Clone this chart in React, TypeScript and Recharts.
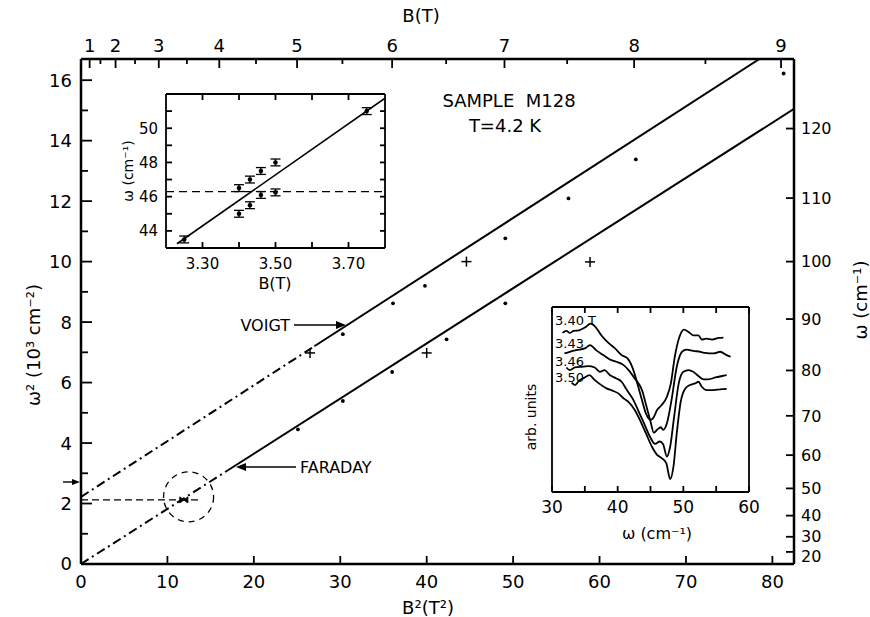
import React from 'react'
import {
  ComposedChart,
  Line,
  Scatter,
  XAxis,
  YAxis,
  ReferenceLine,
  ReferenceDot,
  ErrorBar,
} from 'recharts'

const FONT = '"DejaVu Sans", sans-serif'
const INK = '#000'

// ---- main plot: omega^2 (10^3 cm^-2) against B^2 (T^2)
const X_MAX = 82.5
const Y_MAX = 16.7
const B2_TICKS = [0, 10, 20, 30, 40, 50, 60, 70, 80]
const W2_TICKS = [0, 1, 2, 3, 4, 5, 6, 7, 8, 9, 10, 11, 12, 13, 14, 15, 16]
const B_TOP = [1, 1.5, 2, 2.5, 3, 3.5, 4, 4.5, 5, 5.5, 6, 6.5, 7, 7.5, 8, 8.5, 9]
const OMEGA_RIGHT = [20, 30, 40, 50, 60, 70, 80, 90, 100, 110, 120]

const VOIGT_FIT_DASH = [{ b2: 0, w2: 2.22 }, { b2: 27, w2: 7.2 }]
const VOIGT_FIT_SOLID = [{ b2: 27, w2: 7.2 }, { b2: 78.5, w2: 16.7 }]
const FARADAY_FIT_DASH = [{ b2: 0, w2: 0 }, { b2: 17, w2: 3.1 }]
const FARADAY_FIT_SOLID = [{ b2: 17, w2: 3.1 }, { b2: 82.5, w2: 15.05 }]

const VOIGT_DOTS = [
  { b2: 30.3, w2: 7.6 },
  { b2: 36.1, w2: 8.62 },
  { b2: 39.8, w2: 9.2 },
  { b2: 49.1, w2: 10.77 },
  { b2: 56.4, w2: 12.09 },
  { b2: 64.2, w2: 13.38 },
  { b2: 81.3, w2: 16.22 },
]
const VOIGT_PLUS = [{ b2: 26.5, w2: 6.98 }, { b2: 44.6, w2: 10.0 }]
const FARADAY_DOTS = [
  { b2: 25.1, w2: 4.45 },
  { b2: 30.3, w2: 5.39 },
  { b2: 36.0, w2: 6.35 },
  { b2: 42.3, w2: 7.43 },
  { b2: 49.1, w2: 8.62 },
]
const FARADAY_PLUS = [{ b2: 40.0, w2: 6.98 }, { b2: 58.9, w2: 9.99 }]
const CROSSING = [{ b2: 11.9, w2: 2.12 }]

// ---- inset 1: omega vs B near the crossing
const INSET_B_TICKS = [3.3, 3.4, 3.5, 3.6, 3.7]
const INSET_W_TICKS = [44, 45, 46, 47, 48, 49, 50, 51]
const INSET_FIT = [{ b: 3.23, w: 43.25 }, { b: 3.8, w: 51.75 }]
const INSET_LEVEL = 46.3
const INSET_PTS = [
  { b: 3.25, w: 43.5, err: 0.2 },
  { b: 3.4, w: 46.5, err: 0.2 },
  { b: 3.4, w: 45.0, err: 0.2 },
  { b: 3.43, w: 47.0, err: 0.2 },
  { b: 3.43, w: 45.5, err: 0.2 },
  { b: 3.46, w: 47.5, err: 0.2 },
  { b: 3.46, w: 46.1, err: 0.2 },
  { b: 3.5, w: 48.0, err: 0.2 },
  { b: 3.5, w: 46.25, err: 0.2 },
  { b: 3.75, w: 51.0, err: 0.2 },
]

// ---- inset 2: spectra (arb. units)
const SPEC_TICKS = [30, 35, 40, 45, 50, 55, 60]
const SPEC_340 = [
  [31.6, 86.0], [32.2, 87.1], [32.7, 86.0], [33.3, 87.1], [34.1, 87.4], [35.0, 88.9], [35.9, 91.0],
  [36.7, 88.9], [37.5, 84.7], [38.6, 80.6], [39.6, 77.6], [40.6, 74.0], [41.5, 72.2], [42.3, 66.8],
  [43.0, 58.7], [43.7, 49.7], [44.3, 42.5], [45.0, 39.0], [45.4, 39.9], [46.0, 44.3], [46.7, 47.0],
  [47.5, 51.5], [48.1, 58.7], [48.7, 73.1], [49.4, 83.8], [50.1, 87.8], [50.8, 86.5], [51.5, 84.7],
  [52.3, 84.7], [52.8, 82.4], [53.5, 82.9], [54.4, 82.4], [55.4, 83.3], [56.1, 83.5],
]
const SPEC_343 = [
  [31.9, 74.9], [32.7, 75.8], [33.7, 76.7], [35.0, 77.6], [35.8, 79.4], [36.7, 76.7], [37.8, 74.0],
  [38.8, 71.6], [39.8, 70.4], [40.9, 68.6], [41.6, 66.2], [42.6, 61.4], [43.7, 55.1], [44.4, 46.1],
  [45.0, 38.1], [45.5, 32.1], [46.0, 33.6], [46.6, 35.0], [46.9, 33.6], [47.5, 37.2], [48.2, 49.7],
  [49.0, 67.7], [49.8, 75.8], [50.5, 77.0], [51.5, 76.3], [52.6, 75.8], [53.3, 75.2], [54.6, 74.9],
  [55.6, 75.8], [56.6, 74.0], [57.2, 73.1],
]
const SPEC_346 = [
  [32.2, 67.3], [32.7, 65.9], [33.5, 67.3], [34.5, 67.7], [35.5, 68.0], [36.5, 67.3], [37.3, 65.0],
  [38.0, 65.9], [38.8, 63.2], [39.8, 61.4], [40.6, 59.6], [41.4, 55.1], [42.4, 49.7], [43.1, 44.3],
  [44.0, 37.2], [44.9, 30.0], [45.7, 26.0], [46.4, 27.3], [46.9, 26.0], [47.5, 19.2], [48.0, 24.6],
  [48.6, 40.8], [49.3, 58.7], [50.0, 65.0], [50.8, 65.9], [51.5, 65.0], [52.3, 62.7], [53.1, 60.9],
  [53.8, 60.9], [54.9, 61.9], [55.9, 62.7], [56.6, 63.2],
]
const SPEC_350 = [
  [33.0, 59.1], [33.5, 57.8], [34.1, 60.1], [35.0, 61.9], [35.7, 63.2], [36.4, 60.9], [37.3, 58.3],
  [38.3, 56.0], [39.2, 54.8], [40.1, 53.3], [40.9, 50.6], [41.6, 48.8], [42.6, 44.3], [43.5, 38.1],
  [44.3, 31.8], [45.2, 24.6], [46.0, 20.1], [46.7, 18.3], [47.4, 15.6], [48.0, 7.0], [48.5, 13.8],
  [49.0, 31.8], [49.6, 48.8], [50.3, 56.0], [51.0, 57.8], [51.8, 58.7], [52.3, 59.6], [52.8, 56.9],
  [53.6, 55.1], [54.6, 55.1], [55.6, 55.5], [56.6, 55.7],
]
const SPECTRA = [SPEC_340, SPEC_343, SPEC_346, SPEC_350]

const toPts = (arr: number[][]) => arr.map(([w, a]) => ({ w, a }))

type Side = 'bottom' | 'top' | 'left' | 'right'
interface TickOpts {
  side: Side
  len: (v: number) => number
  text: (v: number) => string
  off: number
  size: number
  nudge?: (v: number) => number
}

// ticks point into the plot, labels sit outside
function tickRenderer(o: TickOpts) {
  return (p: any) => {
    const x = Number(p.x)
    const y = Number(p.y)
    const v = p.payload.value
    const l = o.len(v)
    const s = o.text(v)
    let d = ''
    let tx = x
    let ty = y
    let anchor = 'middle'
    if (o.side === 'bottom') {
      d = `M${x},${y}V${y - l}`
      ty = y + o.off
    } else if (o.side === 'top') {
      d = `M${x},${y}V${y + l}`
      ty = y - o.off
    } else if (o.side === 'left') {
      d = `M${x},${y}H${x + l}`
      tx = x - o.off
      ty = y + o.size * 0.36
      anchor = 'end'
    } else {
      d = `M${x},${y}H${x - l}`
      tx = x + o.off
      ty = y + o.size * 0.36
      anchor = 'start'
    }
    if (o.nudge) ty += o.nudge(v)
    return (
      <g>
        <path d={d} stroke={INK} strokeWidth={1.8} fill="none" />
        {s !== '' && (
          <text x={tx} y={ty} textAnchor={anchor} fontSize={o.size} fontFamily={FONT} fill={INK} stroke="none">
            {s}
          </text>
        )}
      </g>
    )
  }
}

const AXIS = { stroke: INK, strokeWidth: 2.5 }
const THIN_AXIS = { stroke: INK, strokeWidth: 1.8 }

const dotShape = (p: any) => <circle cx={p.cx} cy={p.cy} r={1.9} fill={INK} />
const plusShape = (p: any) => (
  <g stroke={INK} strokeWidth={1.5}>
    <line x1={p.cx - 5} y1={p.cy} x2={p.cx + 5} y2={p.cy} />
    <line x1={p.cx} y1={p.cy - 5} x2={p.cx} y2={p.cy + 5} />
  </g>
)
const bowtieShape = (p: any) => (
  <path
    d={`M${p.cx - 4},${p.cy - 3} L${p.cx + 4},${p.cy + 3} L${p.cx + 4},${p.cy - 3} L${p.cx - 4},${p.cy + 3} Z`}
    fill={INK}
    stroke={INK}
    strokeWidth={1}
  />
)
const insetDot = (p: any) => <circle cx={p.cx} cy={p.cy} r={2.3} fill={INK} />

const DASH_DOT = '9 4 2 4'
const ZERO = { top: 0, right: 0, bottom: 0, left: 0 }

function omegaLabel(v: number) {
  return Math.round(Math.sqrt(v * 1000))
}

function MainChart() {
  return (
    <ComposedChart width={870} height={617} margin={ZERO}>
      <XAxis
        xAxisId="b"
        type="number"
        dataKey="b2"
        domain={[0, X_MAX]}
        allowDataOverflow
        ticks={B2_TICKS}
        interval={0}
        height={53}
        tickSize={0}
        tickMargin={0}
        tickLine={false}
        axisLine={AXIS}
        tick={tickRenderer({ side: 'bottom', len: () => 8, text: (v) => String(v), off: 24, size: 18 })}
      />
      <XAxis
        xAxisId="t"
        orientation="top"
        type="number"
        dataKey="b2"
        domain={[0, X_MAX]}
        allowDataOverflow
        ticks={B_TOP.map((b) => b * b)}
        interval={0}
        height={59}
        tickSize={0}
        tickMargin={0}
        tickLine={false}
        axisLine={AXIS}
        tick={tickRenderer({
          side: 'top',
          len: (v) => (Number.isInteger(Math.round(Math.sqrt(v) * 100) / 100) ? 9 : 5),
          text: (v) => {
            const b = Math.round(Math.sqrt(v) * 100) / 100
            return Number.isInteger(b) ? String(b) : ''
          },
          off: 7,
          size: 18,
        })}
      />
      <YAxis
        yAxisId="l"
        type="number"
        dataKey="w2"
        domain={[0, Y_MAX]}
        allowDataOverflow
        ticks={W2_TICKS}
        interval={0}
        width={81}
        tickSize={0}
        tickMargin={0}
        tickLine={false}
        axisLine={AXIS}
        tick={tickRenderer({
          side: 'left',
          len: (v) => (v % 2 === 0 ? 11 : 7),
          text: (v) => (v % 2 === 0 ? String(v) : ''),
          off: 9,
          size: 18,
        })}
      />
      <YAxis
        yAxisId="r"
        orientation="right"
        type="number"
        dataKey="w2"
        domain={[0, Y_MAX]}
        allowDataOverflow
        ticks={OMEGA_RIGHT.map((w) => (w * w) / 1000)}
        interval={0}
        width={76}
        tickSize={0}
        tickMargin={0}
        tickLine={false}
        axisLine={AXIS}
        tick={tickRenderer({
          side: 'right',
          len: () => 8,
          text: (v) => String(omegaLabel(v)),
          off: 7,
          size: 16,
          // the 20/30/40 labels are crowded near the bottom, spread them a little
          nudge: (v) => (omegaLabel(v) === 20 ? 4 : omegaLabel(v) === 30 ? -1 : 0),
        })}
      />

      <ReferenceLine
        xAxisId="b"
        yAxisId="l"
        segment={[{ x: 0, y: 2.12 }, { x: 13.8, y: 2.12 }]}
        stroke={INK}
        strokeWidth={1.3}
        strokeDasharray="7 4"
      />
      <ReferenceDot
        xAxisId="b"
        yAxisId="l"
        x={12.45}
        y={2.22}
        r={25}
        fill="none"
        stroke={INK}
        strokeWidth={1.3}
        strokeDasharray="6 5"
      />

      <Line xAxisId="b" yAxisId="l" data={VOIGT_FIT_DASH} dataKey="w2" type="linear" stroke={INK} strokeWidth={2} strokeDasharray={DASH_DOT} dot={false} isAnimationActive={false} />
      <Line xAxisId="b" yAxisId="l" data={VOIGT_FIT_SOLID} dataKey="w2" type="linear" stroke={INK} strokeWidth={2} dot={false} isAnimationActive={false} />
      <Line xAxisId="b" yAxisId="l" data={FARADAY_FIT_DASH} dataKey="w2" type="linear" stroke={INK} strokeWidth={2} strokeDasharray={DASH_DOT} dot={false} isAnimationActive={false} />
      <Line xAxisId="b" yAxisId="l" data={FARADAY_FIT_SOLID} dataKey="w2" type="linear" stroke={INK} strokeWidth={2} dot={false} isAnimationActive={false} />
      {/* same Faraday fit bound to the top/right axes, drawn invisibly so those axes get a series */}
      <Line xAxisId="t" yAxisId="r" data={FARADAY_FIT_SOLID} dataKey="w2" type="linear" stroke="none" dot={false} isAnimationActive={false} />

      <Scatter xAxisId="b" yAxisId="l" data={VOIGT_DOTS} dataKey="w2" shape={dotShape} isAnimationActive={false} />
      <Scatter xAxisId="b" yAxisId="l" data={VOIGT_PLUS} dataKey="w2" shape={plusShape} isAnimationActive={false} />
      <Scatter xAxisId="b" yAxisId="l" data={FARADAY_DOTS} dataKey="w2" shape={dotShape} isAnimationActive={false} />
      <Scatter xAxisId="b" yAxisId="l" data={FARADAY_PLUS} dataKey="w2" shape={plusShape} isAnimationActive={false} />
      <Scatter xAxisId="b" yAxisId="l" data={CROSSING} dataKey="w2" shape={bowtieShape} isAnimationActive={false} />
    </ComposedChart>
  )
}

function FieldInset() {
  return (
    <ComposedChart width={300} height={220} margin={ZERO}>
      <XAxis
        xAxisId="b"
        type="number"
        dataKey="b"
        domain={[3.2, 3.8]}
        allowDataOverflow
        ticks={INSET_B_TICKS}
        interval={0}
        height={52}
        tickSize={0}
        tickMargin={0}
        tickLine={false}
        axisLine={THIN_AXIS}
        tick={tickRenderer({
          side: 'bottom',
          len: () => 6,
          text: (v) => (Math.round(v * 10) % 2 === 1 ? v.toFixed(2) : ''),
          off: 21,
          size: 15,
        })}
      />
      <XAxis
        xAxisId="t"
        orientation="top"
        type="number"
        dataKey="b"
        domain={[3.2, 3.8]}
        allowDataOverflow
        ticks={INSET_B_TICKS}
        interval={0}
        height={14}
        tickSize={0}
        tickMargin={0}
        tickLine={false}
        axisLine={THIN_AXIS}
        tick={tickRenderer({ side: 'top', len: () => 6, text: () => '', off: 0, size: 15 })}
      />
      <YAxis
        yAxisId="l"
        type="number"
        dataKey="w"
        domain={[43, 52]}
        allowDataOverflow
        ticks={INSET_W_TICKS}
        interval={0}
        width={66}
        tickSize={0}
        tickMargin={0}
        tickLine={false}
        axisLine={THIN_AXIS}
        tick={tickRenderer({
          side: 'left',
          len: () => 6,
          text: (v) => (v % 2 === 0 ? String(v) : ''),
          off: 8,
          size: 15,
        })}
      />
      <YAxis
        yAxisId="r"
        orientation="right"
        type="number"
        dataKey="w"
        domain={[43, 52]}
        allowDataOverflow
        ticks={INSET_W_TICKS}
        interval={0}
        width={15}
        tickSize={0}
        tickMargin={0}
        tickLine={false}
        axisLine={THIN_AXIS}
        tick={tickRenderer({ side: 'right', len: () => 5, text: () => '', off: 0, size: 15 })}
      />
      <ReferenceLine xAxisId="b" yAxisId="l" y={INSET_LEVEL} stroke={INK} strokeWidth={1.3} strokeDasharray="8 5" />
      <Line xAxisId="b" yAxisId="l" data={INSET_FIT} dataKey="w" type="linear" stroke={INK} strokeWidth={1.6} dot={false} isAnimationActive={false} />
      <Line xAxisId="t" yAxisId="r" data={INSET_FIT} dataKey="w" type="linear" stroke="none" dot={false} isAnimationActive={false} />
      <Scatter xAxisId="b" yAxisId="l" data={INSET_PTS} dataKey="w" shape={insetDot} isAnimationActive={false}>
        <ErrorBar dataKey="err" direction="y" width={5} stroke={INK} strokeWidth={1.3} />
      </Scatter>
    </ComposedChart>
  )
}

function SpectraInset() {
  return (
    <ComposedChart width={270} height={270} margin={ZERO}>
      <XAxis
        xAxisId="b"
        type="number"
        dataKey="w"
        domain={[30, 60]}
        allowDataOverflow
        ticks={SPEC_TICKS}
        interval={0}
        height={68}
        tickSize={0}
        tickMargin={0}
        tickLine={false}
        axisLine={THIN_AXIS}
        tick={tickRenderer({
          side: 'bottom',
          len: () => 6,
          text: (v) => (v % 10 === 0 ? String(v) : ''),
          off: 21,
          size: 17,
        })}
      />
      <XAxis
        xAxisId="t"
        orientation="top"
        type="number"
        dataKey="w"
        domain={[30, 60]}
        allowDataOverflow
        ticks={SPEC_TICKS}
        interval={0}
        height={17}
        tickSize={0}
        tickMargin={0}
        tickLine={false}
        axisLine={THIN_AXIS}
        tick={tickRenderer({ side: 'top', len: () => 6, text: () => '', off: 0, size: 15 })}
      />
      <YAxis yAxisId="l" type="number" dataKey="a" domain={[0, 100]} allowDataOverflow width={52} tick={false} tickLine={false} axisLine={THIN_AXIS} />
      <YAxis yAxisId="r" orientation="right" type="number" dataKey="a" domain={[0, 100]} allowDataOverflow width={21} tick={false} tickLine={false} axisLine={THIN_AXIS} />
      {SPECTRA.map((s, i) => (
        <Line
          key={i}
          xAxisId="b"
          yAxisId="l"
          data={toPts(s)}
          dataKey="a"
          type="monotone"
          stroke={INK}
          strokeWidth={1.8}
          dot={false}
          isAnimationActive={false}
        />
      ))}
      <Line xAxisId="t" yAxisId="r" data={toPts(SPEC_340)} dataKey="a" stroke="none" dot={false} isAnimationActive={false} />
    </ComposedChart>
  )
}

function Annotations() {
  const t = { fontFamily: FONT, fill: INK }
  return (
    <svg
      width={870}
      height={617}
      style={{ position: 'absolute', left: 0, top: 0, pointerEvents: 'none' }}
    >
      {/* main axis titles */}
      <text x={421} y={22} textAnchor="middle" fontSize={18} {...t}>B(T)</text>
      <text x={428} y={614} textAnchor="middle" fontSize={18} {...t}>B²(T²)</text>
      <text x={34} y={345} textAnchor="middle" fontSize={18} transform="rotate(-90 34 345)" dy={6} {...t}>
        ω² (10³ cm⁻²)
      </text>
      <text x={861} y={300} textAnchor="middle" fontSize={18} transform="rotate(-90 861 300)" dy={6} {...t}>
        ω (cm⁻¹)
      </text>

      <text x={509} y={107} textAnchor="middle" fontSize={18} style={{ whiteSpace: 'pre' }} {...t}>
        {'SAMPLE  M128'}
      </text>
      <text x={505} y={132} textAnchor="middle" fontSize={18} {...t}>T=4.2 K</text>

      {/* VOIGT label */}
      <text x={290} y={331} textAnchor="end" fontSize={16} {...t}>VOIGT</text>
      <line x1={294} y1={325} x2={337} y2={325} stroke={INK} strokeWidth={1.4} />
      <polygon points="346,325 336,321 336,329" fill={INK} />

      {/* FARADAY label */}
      <text x={300} y={473} textAnchor="start" fontSize={16} {...t}>FARADAY</text>
      <line x1={296} y1={467} x2={245} y2={467} stroke={INK} strokeWidth={1.4} />
      <polygon points="236,467 246,463 246,471" fill={INK} />

      {/* arrow at the left axis */}
      <line x1={63} y1={482} x2={73} y2={482} stroke={INK} strokeWidth={1.4} />
      <polygon points="80,482 72,479 72,485" fill={INK} />

      {/* inset 1 titles */}
      <text x={128} y={171} textAnchor="middle" fontSize={14} transform="rotate(-90 128 171)" dy={5} {...t}>
        ω (cm⁻¹)
      </text>
      <text x={275} y={289} textAnchor="middle" fontSize={16} {...t}>B(T)</text>

      {/* inset 2 titles */}
      <text x={657} y={539} textAnchor="middle" fontSize={16} {...t}>ω (cm⁻¹)</text>
      <text x={531} y={417} textAnchor="middle" fontSize={14} transform="rotate(-90 531 417)" dy={5} {...t}>
        arb. units
      </text>
      <text x={555} y={325} fontSize={13} {...t}>3.40 T</text>
      <text x={555} y={348} fontSize={13} {...t}>3.43</text>
      <text x={555} y={366} fontSize={13} {...t}>3.46</text>
      <text x={555} y={382} fontSize={13} {...t}>3.50</text>
    </svg>
  )
}

export default function App() {
  return (
    <div
      style={{
        position: 'absolute',
        left: 0,
        top: 0,
        width: 870,
        height: 617,
        background: '#fff',
        fontFamily: FONT,
      }}
    >
      <MainChart />
      <div style={{ position: 'absolute', left: 100, top: 80 }}>
        <FieldInset />
      </div>
      <div style={{ position: 'absolute', left: 500, top: 290 }}>
        <SpectraInset />
      </div>
      <Annotations />
    </div>
  )
}
